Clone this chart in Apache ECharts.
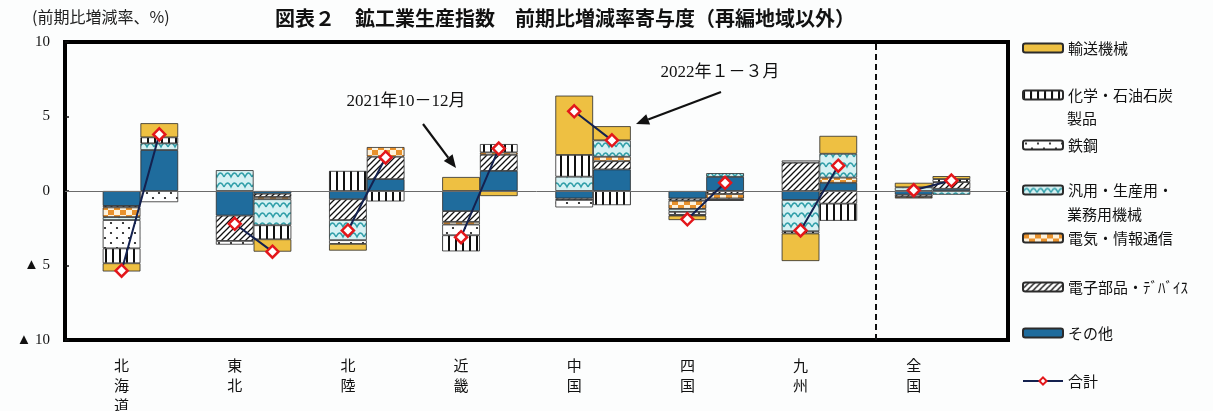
<!DOCTYPE html>
<html>
<head>
<meta charset="utf-8">
<script src="https://cdn.jsdelivr.net/npm/echarts@6/dist/echarts.min.js"></script>
<style>
  html, body { margin: 0; padding: 0; background: #fcfdfd; }
  #chart { width: 1213px; height: 411px; }
</style>
</head>
<body>
<div id="chart"></div>
<script>
// Regions and the two quarters drawn side by side for each of them
const regions = ['北海道', '東北', '北陸', '近畿', '中国', '四国', '九州', '全国'];
const periodLabels = ['2021年10－12月', '2022年１－３月'];

// Contribution by industry (percentage points), 2021 Oct-Dec
const other4     = [-1.0, -1.65, -0.55, -1.35, -0.5, -0.5, -0.6, -0.25];
const elecParts4 = [-0.1, -1.7, -1.4, -0.72, -0.1, -0.15, 1.9, -0.15];
const elecInfo4  = [-0.65, 0, 0, -0.18, 0, -0.55, 0, -0.1];
const machine4   = [-0.2, 1.4, -1.35, 0, 0.96, -0.2, -2.1, 0.25];
const steel4     = [-1.9, -0.25, -0.25, -0.72, -0.5, -0.2, 0.15, 0];
const chem4      = [-1.0, 0, 1.35, -1.08, 1.46, -0.05, -0.15, 0];
const transport4 = [-0.55, 0, -0.45, 0.94, 3.98, -0.3, -1.85, 0.3];
const total4     = [-5.35, -2.2, -2.65, -3.1, 5.35, -1.9, -2.65, 0.05];

// Contribution by industry (percentage points), 2022 Jan-Mar
const other1     = [2.75, -0.18, 0.8, 1.35, 1.45, 0.95, 0.55, 0.15];
const elecParts1 = [0, -0.22, 1.5, 1.08, 0.55, -0.2, -0.85, 0.45];
const elecInfo1  = [0, -0.15, 0.65, 0.16, 0.3, -0.3, 0.35, 0];
const machine1   = [0.45, -1.75, 0, 0, 1.1, 0.25, 1.6, -0.25];
const steel1     = [-0.75, 0, 0, 0, 0, -0.1, 0, 0];
const chem1      = [0.4, -0.94, -0.7, 0.56, -0.95, -0.05, -1.15, 0.2];
const transport1 = [0.95, -0.83, 0, -0.34, 0.95, 0, 1.2, 0.2];
const total1     = [3.8, -4.07, 2.25, 2.85, 3.4, 0.55, 1.7, 0.7];

// Y axis ticks
const yTicks = [-10, -5, 0, 5, 10];

// ---------- slot layout ----------
// Each region takes three slots on the category axis: Oct-Dec, Jan-Mar, gap.
// One leading slot keeps the first pair off the frame.
const SLOTS = regions.length * 3 + 1;
const slotOf = (i, q) => 3 * i + 1 + q;
const slotLabels = Array.from({ length: SLOTS }, () => '');
regions.forEach((r, i) => { slotLabels[slotOf(i, 0)] = r; });
// dashed divider sits in the gap slot before the nationwide pair
const dividerSlot = slotOf(regions.length - 1, 0) - 1;

const SERIF = "'Liberation Serif', 'Noto Sans CJK JP', serif";
const JP = "'Noto Sans CJK JP', sans-serif";

// ---------- fill patterns ----------
function pattern(w, h, draw) {
  const c = document.createElement('canvas');
  c.width = w; c.height = h;
  draw(c.getContext('2d'), w, h);
  return { image: c, repeat: 'repeat' };
}
const YELLOW = '#EEC042';
const BLUE = '#1F6C9D';
const pStripes = pattern(7, 4, (g, w, h) => {
  g.fillStyle = '#ffffff'; g.fillRect(0, 0, w, h);
  g.fillStyle = '#111111'; g.fillRect(0, 0, 2, h);
});
const pDots = pattern(12, 10, (g, w, h) => {
  g.fillStyle = '#ffffff'; g.fillRect(0, 0, w, h);
  g.fillStyle = '#111111';
  g.beginPath(); g.arc(3, 3, 1.1, 0, Math.PI * 2); g.fill();
  g.beginPath(); g.arc(9, 8, 1.1, 0, Math.PI * 2); g.fill();
});
const pWave = pattern(14, 10, (g, w, h) => {
  g.fillStyle = '#d6f1f3'; g.fillRect(0, 0, w, h);
  g.strokeStyle = '#2f9ea8'; g.lineWidth = 1.4;
  g.beginPath();
  g.moveTo(0, 7);
  g.quadraticCurveTo(3.5, -1, 7, 7);
  g.quadraticCurveTo(10.5, -1, 14, 7);
  g.stroke();
});
const pChecker = pattern(12, 10, (g, w, h) => {
  g.fillStyle = '#fdf2dc'; g.fillRect(0, 0, w, h);
  g.fillStyle = '#e8912c';
  g.fillRect(0, 0, 6, 5);
  g.fillRect(6, 5, 6, 5);
});
const pHatch = pattern(6, 6, (g, w, h) => {
  g.fillStyle = '#ffffff'; g.fillRect(0, 0, w, h);
  g.strokeStyle = '#111111'; g.lineWidth = 1.3;
  g.beginPath();
  g.moveTo(-1, 7); g.lineTo(7, -1);
  g.moveTo(-1, 1); g.lineTo(1, -1);
  g.moveTo(5, 7); g.lineTo(7, 5);
  g.stroke();
});

// Stack order from the zero line outward
const industries = [
  { name: 'その他', q4: other4, q1: other1, fill: BLUE },
  { name: '電子部品・ﾃﾞﾊﾞｲｽ', q4: elecParts4, q1: elecParts1, fill: pHatch },
  { name: '電気・情報通信', q4: elecInfo4, q1: elecInfo1, fill: pChecker },
  { name: '汎用・生産用・業務用機械', q4: machine4, q1: machine1, fill: pWave },
  { name: '鉄鋼', q4: steel4, q1: steel1, fill: pDots },
  { name: '化学・石油石炭製品', q4: chem4, q1: chem1, fill: pStripes },
  { name: '輸送機械', q4: transport4, q1: transport1, fill: YELLOW }
];

function slotData(a4, a1, keepZero) {
  const out = Array.from({ length: SLOTS }, () => '-');
  regions.forEach((r, i) => {
    out[slotOf(i, 0)] = (a4[i] === 0 && !keepZero) ? '-' : a4[i];
    out[slotOf(i, 1)] = (a1[i] === 0 && !keepZero) ? '-' : a1[i];
  });
  return out;
}

const barSeries = industries.map(ind => ({
  name: ind.name,
  type: 'bar',
  stack: 'contrib',
  barWidth: '100%',
  data: slotData(ind.q4, ind.q1, false),
  itemStyle: { color: ind.fill, borderColor: '#2b2b2b', borderWidth: 0.8 },
  emphasis: { disabled: true },
  z: 2
}));

const lineSeries = {
  name: '合計',
  type: 'line',
  data: slotData(total4, total1, true),
  connectNulls: false,
  symbol: 'diamond',
  symbolSize: 12,
  lineStyle: { color: '#14214f', width: 2 },
  itemStyle: { color: '#ffffff', borderColor: '#e3171b', borderWidth: 2.5 },
  emphasis: { disabled: true },
  z: 5,
  markLine: {
    silent: true,
    symbol: 'none',
    label: { show: false },
    animation: false,
    data: [
      { yAxis: 0, lineStyle: { color: '#6b6b6b', width: 1, type: 'solid' } },
      { xAxis: dividerSlot, lineStyle: { color: '#111111', width: 2, type: [6, 4] } }
    ]
  }
};

// Legend entries, each placed at its own height
const legendRows = [
  { name: '輸送機械', y: 48 },
  { name: '化学・石油石炭製品', y: 95, first: '化学・石油石炭', second: '製品', y2: 118 },
  { name: '鉄鋼', y: 145 },
  { name: '汎用・生産用・業務用機械', y: 190, first: '汎用・生産用・', second: '業務用機械', y2: 214 },
  { name: '電気・情報通信', y: 238 },
  { name: '電子部品・ﾃﾞﾊﾞｲｽ', y: 287 },
  { name: 'その他', y: 333 },
  { name: '合計', y: 381 }
];
const legends = legendRows.map(row => ({
  data: [row.name],
  orient: 'vertical',
  left: 1022,
  top: row.y - 10,
  padding: 0,
  itemWidth: 40,
  itemHeight: 9,
  selectedMode: false,
  formatter: () => row.first || row.name,
  textStyle: { fontFamily: JP, fontSize: 15, color: '#111', lineHeight: 20 }
}));

function arrow(x0, y0, x1, y1) {
  const ang = Math.atan2(y1 - y0, x1 - x0);
  const L = 13, W = 5.5;
  const bx = x1 - L * Math.cos(ang), by = y1 - L * Math.sin(ang);
  const px = -Math.sin(ang) * W, py = Math.cos(ang) * W;
  return [
    { type: 'line', shape: { x1: x0, y1: y0, x2: bx, y2: by }, style: { stroke: '#111', lineWidth: 2.2 }, silent: true },
    { type: 'polygon', shape: { points: [[x1, y1], [bx + px, by + py], [bx - px, by - py]] }, style: { fill: '#111' }, silent: true }
  ];
}

const graphics = [
  { type: 'text', left: 32, top: 9, style: { text: '(前期比増減率、%)', font: '16px ' + JP, fill: '#222' }, silent: true },
  { type: 'text', x: 565, y: 18, style: { text: '図表２　鉱工業生産指数　前期比増減率寄与度（再編地域以外）', font: 'bold 20px ' + JP, fill: '#111', align: 'center', verticalAlign: 'middle' }, silent: true },
  { type: 'text', x: 406, y: 102, style: { text: periodLabels[0], font: '17px ' + SERIF, fill: '#111', align: 'center', verticalAlign: 'middle' }, silent: true },
  { type: 'text', x: 720, y: 73, style: { text: periodLabels[1], font: '17px ' + SERIF, fill: '#111', align: 'center', verticalAlign: 'middle' }, silent: true },
  ...arrow(423, 124, 456, 168),
  ...arrow(721, 92, 636, 124)
];
legendRows.filter(r => r.second).forEach(r => {
  graphics.push({ type: 'text', x: 1067, y: r.y2, style: { text: r.second, font: '15px ' + JP, fill: '#111', verticalAlign: 'middle' }, silent: true });
});

const chart = echarts.init(document.getElementById('chart'), null, { renderer: 'canvas' });
chart.setOption({
  animation: false,
  backgroundColor: '#fcfdfd',
  grid: {
    left: 65, top: 42, right: 205, bottom: 71,
    show: true, borderColor: '#000', borderWidth: 4, backgroundColor: 'transparent',
    containLabel: false, outerBoundsMode: 'none'
  },
  xAxis: {
    type: 'category', data: slotLabels,
    axisLine: { show: false }, axisTick: { show: false }, splitLine: { show: false },
    axisLabel: {
      interval: 0,
      formatter: v => v.split('').join('\n'),
      fontFamily: JP, fontSize: 15, lineHeight: 20, color: '#111', margin: 15
    }
  },
  yAxis: {
    type: 'value', min: yTicks[0], max: yTicks[yTicks.length - 1], interval: 5,
    axisLine: { show: false },
    axisTick: { show: true, inside: true, length: 4, lineStyle: { color: '#111', width: 1.5 } },
    splitLine: { show: false },
    axisLabel: {
      formatter: v => v < 0 ? '▲ ' + (-v) : String(v),
      fontFamily: SERIF, fontSize: 15, color: '#111', margin: 15
    }
  },
  legend: legends,
  series: [...barSeries, lineSeries],
  graphic: graphics
});
</script>
</body>
</html>
